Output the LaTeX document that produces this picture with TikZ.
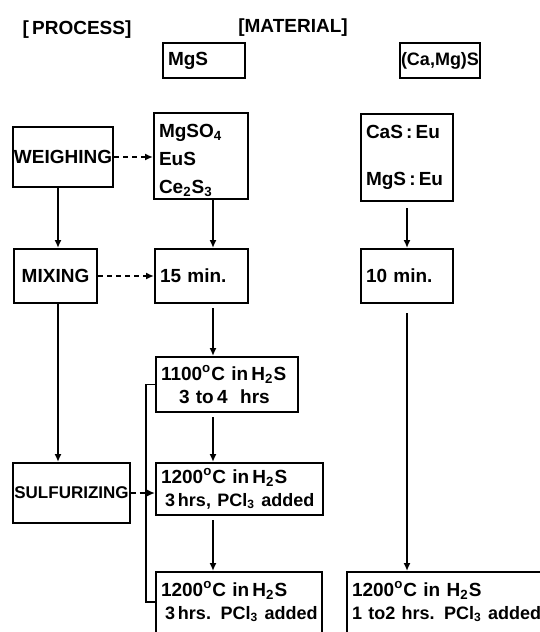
\documentclass[tikz,border=0pt]{standalone}
\usepackage{fontspec}
\setmainfont{Liberation Sans}[WordSpace=0.7]
\usetikzlibrary{arrows.meta}

\begin{document}
\begin{tikzpicture}[x=0.5pt,y=-0.5pt,
  every node/.style={font=\fontsize{9.5}{11.5}\selectfont\bfseries},
  proc/.style={draw,line width=1pt,inner sep=0.5pt,align=center},
  mat/.style={draw,line width=1pt,inner xsep=2.5pt,inner ysep=1pt,align=left},
  hd/.style={inner sep=0pt},
  arr/.style={-{Latex[length=4pt,width=3.5pt]},line width=0.8pt},
  dsh/.style={arr,dash pattern=on 2.5pt off 2pt}]

\useasboundingbox (0,0) rectangle (540,632);
\clip (0,0) rectangle (540,632);

% ---- headings ----
\node[hd] (prochd) at (77,30) {[\,PROCESS]};
\node[hd] (mathd) at (293,28) {[MATERIAL]};

% ---- products ----
\node[mat,text width=36pt,minimum height=17.5pt] (mgs) at (204,60.5) {MgS};
\node[mat,inner xsep=0.5pt,text width=39pt,minimum height=17.5pt,
      font=\fontsize{9}{11}\selectfont\bfseries] (camgs) at (440,60.5) {(Ca,Mg)S};

% ---- process steps ----
\node[proc,minimum width=49pt,minimum height=30pt] (weigh) at (63,157) {WEIGHING};
\node[proc,minimum width=41.5pt,minimum height=27pt] (mix) at (55.5,276) {MIXING};
\node[proc,minimum width=57.5pt,minimum height=30pt,
      font=\fontsize{8.5}{10}\selectfont\bfseries] (sulf) at (71.5,493) {SULFURIZING};

% ---- MgS route ----
\node[mat,text width=42pt,minimum height=43pt,font=\fontsize{9.5}{14}\selectfont\bfseries]
  (raw) at (201,156) {\rule{0pt}{11pt}MgSO\textsubscript{4}\\EuS\\Ce\textsubscript{2}S\textsubscript{3}};
\node[mat,text width=41.5pt,minimum height=27pt] (mix1) at (201.5,276) {15 min.};
\node[mat,text width=66pt,minimum height=27.5pt] (fire1) at (227,384.5)
  {1100\textsuperscript{o}C\ in\,H\textsubscript{2}S\\\hspace*{9pt}3 to\,4\ \ hrs};
\node[mat,text width=78.5pt,minimum height=26pt] (fire2) at (239.5,489)
  {1200\textsuperscript{o}C in\,H\textsubscript{2}S\\
   \hspace*{2pt}\mbox{\fontsize{9}{11.5}\selectfont 3\,hrs, PCl\textsubscript{3} added}};
\node[mat,text width=78pt,minimum height=40pt] (fire3) at (239,612)
  {1200\textsuperscript{o}C\ in\,H\textsubscript{2}S\\
   \hspace*{2pt}\mbox{\fontsize{9}{11.5}\selectfont 3\,hrs. PCl\textsubscript{3} added}\\\mbox{}};

% ---- (Ca,Mg)S route ----
\node[mat,text width=41pt,minimum height=43.5pt] (cas) at (407,157.5)
  {CaS\,:\,Eu\\[12pt]MgS\,:\,Eu};
\node[mat,text width=41pt,minimum height=27pt] (mix2) at (407,276) {10 min.};
\node[mat,text width=101.5pt,minimum height=40pt] (fire4) at (453.5,612)
  {1200\textsuperscript{o}C in H\textsubscript{2}S\\
   \mbox{\fontsize{9}{11.5}\selectfont 1 to2 hrs. PCl\textsubscript{3} added}\\\mbox{}};

\coordinate (pcol) at (58,0);
\coordinate (mcol) at (213,0);

\draw[dsh] (weigh.east) -- (weigh.east -| raw.west);
\draw[dsh] (mix.east) -- (mix.east -| mix1.west);
\draw[dsh] (sulf.east) -- (sulf.east -| fire2.west);
\draw[arr] (weigh.south -| pcol) -- (mix.north -| pcol);
\draw[arr] (mix.south -| pcol) -- (sulf.north -| pcol);
\draw[arr] (raw.south -| mcol) -- (mix1.north -| mcol);
\draw[arr,shorten <=2pt] (mix1.south -| mcol) -- (fire1.north -| mcol);
\draw[arr,shorten <=2pt] (fire1.south -| mcol) -- (fire2.north -| mcol);
\draw[arr,shorten <=2pt] (fire2.south -| mcol) -- (fire3.north -| mcol);
\draw[arr,shorten <=3pt] (cas) -- (mix2);
\draw[arr,shorten <=4.5pt] (mix2.south) -- (mix2.south |- fire4.north);
\draw[line width=0.8pt] (fire1.west) -- ++(-9,0) |- ([yshift=5pt]fire3.west);
\end{tikzpicture}
\end{document}
